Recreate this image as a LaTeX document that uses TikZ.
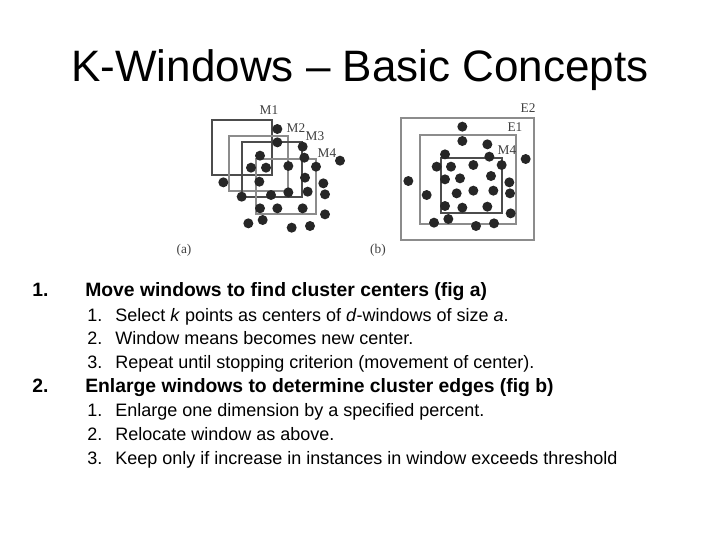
\documentclass[tikz,border=0pt]{standalone}
\usepackage{fontspec}
\setmainfont{Liberation Sans}
\newfontfamily\figfont{Liberation Serif}
\begin{document}
\begin{tikzpicture}[x=0.75pt,y=-0.75pt,
  win/.style={draw=black!70,line width=0.8pt},
  winb/.style={draw=black!45,line width=1.1pt},
  dot/.style={circle,fill=black!85,inner sep=0pt,minimum size=7.5pt},
  lab/.style={font=\figfont\fontsize{10}{12}\selectfont,text=black!75,inner sep=0pt},
  item/.style={anchor=west,inner sep=0pt,text height=1.6ex,text depth=0.4ex,font=\fontsize{13.5}{15}\selectfont},
  head/.style={anchor=west,inner sep=0pt,text height=1.6ex,text depth=0.4ex,font=\bfseries\fontsize{14.5}{16}\selectfont}]
\useasboundingbox (0,0) rectangle (720,540);
\node (title) at (360,70) {\fontsize{33}{38}\selectfont K-Windows -- Basic Concepts};
% figure (a)
\draw[win]  (212,120) rectangle (272,175);
\draw[winb] (229,136) rectangle (288,191);
\draw[win]  (242,142) rectangle (302,197);
\draw[winb] (256,159) rectangle (316,214);
\node[lab] (m1) at (269,110) {M1};
\node[lab] (m2) at (296,128) {M2};
\node[lab] (m3) at (315,136) {M3};
\node[lab] (m4a) at (327,153) {M4};
\foreach \u/\v [count=\i] in {262/102,262/142,338/155,210/182,343/188,450/197,183/218,228/218,295/213,378/215,100/262,208/260,345/248,400/265,155/305,243/300,295/292,353/290,405/298,210/340,262/340,338/340,405/358,175/385,218/375,305/398,360/393}
  \node[dot] (a\i) at ({190+\u/3},{95+\v/3}) {};
\node[lab] (capa) at (184,250) {(a)};
% figure (b)
\draw[winb] (401,118) rectangle (534,240);
\draw[winb] (420,135) rectangle (516,224);
\draw[win]  (441,158) rectangle (502,213);
\node[lab] (e2) at (528,108) {E2};
\node[lab] (e1) at (515,127) {E1};
\node[lab] (m4b) at (507,150) {M4};
\foreach \u/\v [count=\i] in {817/95,817/138,892/148,765/178,898/185,1007/192,740/215,783/215,850/210,935/210,655/258,765/253,810/250,903/243,958/262,800/295,850/287,910/287,960/295,710/300,765/333,817/338,892/335,962/355,775/372,732/383,858/393,912/385}
  \node[dot] (b\i) at ({190+\u/3},{95+\v/3}) {};
\node[lab] (capb) at (378,250) {(b)};
% text
\node[head] (n1) at (32,292) {1.};
\node[head] (h1) at (85,292) {Move windows to find cluster centers (fig a)};
\node[item] (s11) at (87,317) {1.};
\node[item] (t11) at (115,317) {Select \textit{k} points as centers of \textit{d}-windows of size \textit{a}.};
\node[item] (s12) at (87,340) {2.};
\node[item] (t12) at (115,340) {Window means becomes new center.};
\node[item] (s13) at (87,364) {3.};
\node[item] (t13) at (115,364) {Repeat until stopping criterion (movement of center).};
\node[head] (n2) at (32,388) {2.};
\node[head] (h2) at (85,388) {Enlarge windows to determine cluster edges (fig b)};
\node[item] (s21) at (87,412) {1.};
\node[item] (t21) at (115,412) {Enlarge one dimension by a specified percent.};
\node[item] (s22) at (87,436) {2.};
\node[item] (t22) at (115,436) {Relocate window as above.};
\node[item] (s23) at (87,460) {3.};
\node[item] (t23) at (115,460) {Keep only if increase in instances in window exceeds threshold};
\end{tikzpicture}
\end{document}
